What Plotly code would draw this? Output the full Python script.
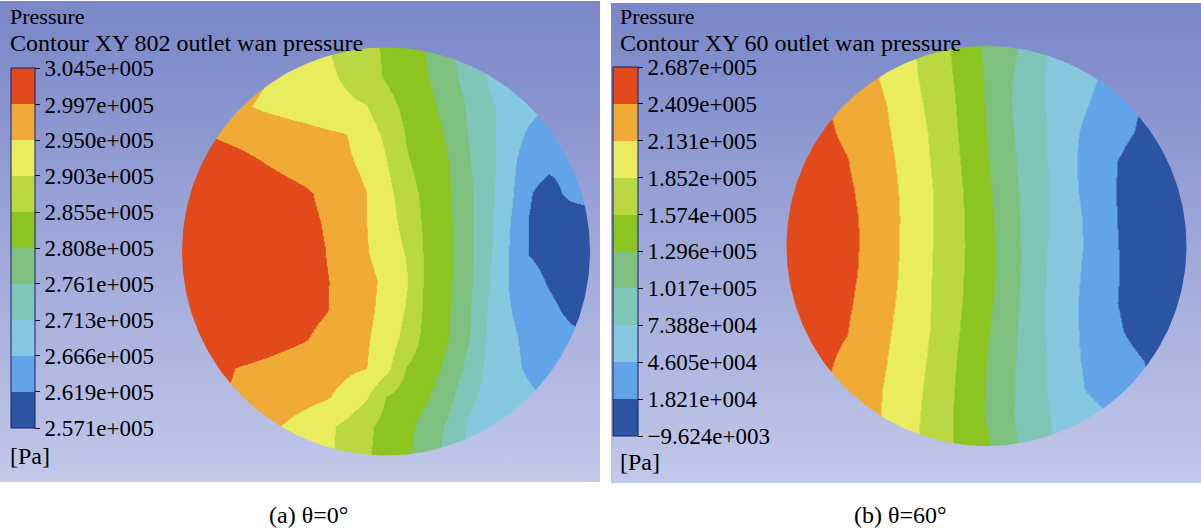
import numpy as np
import plotly.graph_objects as go

W, H = 1201, 532
FONT = "Liberation Serif, Times New Roman, serif"

# legend band colours, bottom (lowest) to top (highest)
BAND_COLORS = [
    "rgb(43,85,163)",    # dark blue
    "rgb(98,164,232)",   # blue
    "rgb(134,200,224)",  # light blue
    "rgb(128,198,184)",  # teal
    "rgb(126,192,126)",  # green-teal
    "rgb(140,196,32)",   # green
    "rgb(186,216,66)",   # yellow-green
    "rgb(232,236,94)",   # yellow
    "rgb(240,170,54)",   # orange
    "rgb(226,74,28)",    # red
]

# colour-bar tick labels, top to bottom
LABELS_A = ["3.045e+005", "2.997e+005", "2.950e+005", "2.903e+005", "2.855e+005",
            "2.808e+005", "2.761e+005", "2.713e+005", "2.666e+005", "2.619e+005",
            "2.571e+005"]
LABELS_B = ["2.687e+005", "2.409e+005", "2.131e+005", "1.852e+005", "1.574e+005",
            "1.296e+005", "1.017e+005", "7.388e+004", "4.605e+004", "1.821e+004",
            "\u22129.624e+003"]

# pressure, on a 21 x 15 grid over the circle
# (rows top -> bottom, columns left -> right), expressed in legend-band units
# (0 = bottom of the colour bar, 10 = top of the colour bar)
FIELD_A = [
    [9.33, 9.13, 8.85, 8.49, 8.11, 7.77, 7.43, 7.08, 6.70, 6.28, 5.87, 5.42, 4.93, 4.21, 3.38, 2.87, 2.63, 2.37, 2.13, 1.75, 1.25],
    [9.13, 8.91, 8.63, 8.36, 8.08, 7.80, 7.51, 7.21, 6.88, 6.38, 5.91, 5.49, 5.04, 4.40, 3.63, 2.94, 2.68, 2.40, 2.14, 1.75, 1.25],
    [9.33, 9.13, 8.74, 8.10, 7.86, 7.70, 7.54, 7.37, 7.21, 7.04, 6.35, 5.73, 5.27, 4.69, 3.89, 3.15, 2.70, 2.30, 1.90, 1.38, 0.90],
    [9.23, 9.03, 8.88, 8.74, 8.60, 8.46, 8.33, 8.18, 8.05, 7.53, 6.80, 5.91, 5.42, 4.91, 3.98, 3.26, 2.48, 1.84, 1.47, 1.09, 0.80],
    [9.84, 9.64, 9.43, 9.23, 9.02, 8.81, 8.60, 8.38, 8.17, 7.81, 7.07, 6.10, 5.56, 5.09, 4.11, 3.33, 2.35, 1.35, 1.15, 1.20, 1.30],
    [9.90, 9.90, 9.90, 9.73, 9.52, 9.32, 9.12, 8.82, 8.43, 8.02, 7.32, 6.42, 5.68, 5.18, 4.22, 3.36, 2.27, 1.06, 0.70, 1.20, 1.50],
    [9.90, 9.90, 9.90, 9.80, 9.59, 9.39, 9.19, 8.95, 8.50, 8.02, 7.42, 6.65, 5.74, 5.23, 4.29, 3.32, 2.07, 0.98, 0.60, 0.45, 0.40],
    [9.90, 9.90, 9.90, 9.83, 9.62, 9.42, 9.22, 9.01, 8.56, 8.07, 7.53, 6.92, 5.77, 5.26, 4.31, 3.21, 1.98, 0.95, 0.60, 0.45, 0.45],
    [9.90, 9.90, 9.90, 9.89, 9.68, 9.48, 9.28, 9.07, 8.73, 8.29, 7.78, 7.04, 5.76, 5.24, 4.25, 3.11, 1.97, 1.42, 0.90, 0.55, 0.50],
    [9.90, 9.90, 9.90, 9.88, 9.67, 9.47, 9.27, 9.06, 8.70, 8.24, 7.68, 6.91, 5.70, 5.16, 4.17, 2.95, 2.05, 1.62, 1.23, 0.80, 0.60],
    [9.90, 9.90, 9.86, 9.66, 9.45, 9.25, 9.05, 8.75, 8.44, 8.11, 7.55, 6.64, 5.61, 5.06, 4.10, 2.89, 2.18, 1.79, 1.53, 1.26, 1.00],
    [9.52, 9.32, 9.11, 8.93, 8.78, 8.63, 8.49, 8.33, 8.18, 8.03, 7.30, 5.95, 5.41, 4.81, 3.73, 2.76, 2.24, 1.86, 1.61, 1.36, 1.12],
    [9.43, 9.23, 9.02, 8.84, 8.65, 8.47, 8.29, 8.10, 7.74, 7.12, 5.98, 5.54, 5.09, 4.38, 3.21, 2.75, 2.46, 2.16, 1.89, 1.63, 1.38],
    [9.28, 9.08, 8.82, 8.54, 8.24, 7.95, 7.60, 7.23, 6.80, 6.20, 5.70, 5.23, 4.62, 3.88, 2.91, 2.66, 2.41, 2.14, 1.89, 1.63, 1.38],
    [9.18, 8.97, 8.67, 8.39, 8.09, 7.79, 7.49, 7.18, 6.76, 6.12, 5.63, 5.16, 4.53, 3.71, 2.87, 2.63, 2.39, 2.13, 1.89, 1.63, 1.38],
]
FIELD_B = [
    [9.37, 9.17, 8.94, 8.56, 8.19, 7.75, 7.24, 6.69, 6.10, 5.44, 4.83, 4.34, 3.76, 3.06, 2.65, 2.26, 1.85, 1.38, 0.95, 0.61, 0.28],
    [9.33, 9.14, 8.89, 8.56, 8.22, 7.83, 7.30, 6.76, 6.19, 5.56, 4.89, 4.22, 3.56, 2.94, 2.59, 2.24, 1.85, 1.38, 0.95, 0.61, 0.28],
    [9.44, 9.24, 9.04, 8.71, 8.35, 7.99, 7.44, 6.89, 6.29, 5.64, 4.93, 4.15, 3.53, 2.96, 2.50, 2.05, 1.65, 1.26, 0.89, 0.56, 0.22],
    [9.52, 9.32, 9.12, 8.85, 8.47, 8.10, 7.59, 7.03, 6.38, 5.70, 4.99, 4.23, 3.59, 3.01, 2.32, 1.81, 1.47, 1.13, 0.79, 0.46, 0.15],
    [9.64, 9.44, 9.24, 9.04, 8.64, 8.21, 7.70, 7.11, 6.46, 5.78, 5.08, 4.33, 3.65, 3.03, 2.30, 1.71, 1.22, 0.82, 0.49, 0.15, 0.10],
    [9.72, 9.52, 9.32, 9.12, 8.80, 8.31, 7.78, 7.20, 6.55, 5.87, 5.18, 4.43, 3.71, 3.06, 2.36, 1.73, 1.19, 0.78, 0.45, 0.12, 0.10],
    [9.76, 9.56, 9.36, 9.16, 8.89, 8.36, 7.81, 7.21, 6.57, 5.92, 5.26, 4.51, 3.74, 3.06, 2.46, 1.86, 1.23, 0.79, 0.46, 0.12, 0.10],
    [9.77, 9.57, 9.37, 9.16, 8.90, 8.36, 7.79, 7.19, 6.57, 5.94, 5.32, 4.58, 3.76, 3.02, 2.46, 1.90, 1.28, 0.81, 0.48, 0.15, 0.10],
    [9.75, 9.55, 9.35, 9.15, 8.87, 8.32, 7.76, 7.16, 6.53, 5.91, 5.31, 4.58, 3.75, 2.98, 2.39, 1.82, 1.28, 0.84, 0.50, 0.17, 0.10],
    [9.71, 9.51, 9.31, 9.11, 8.76, 8.23, 7.69, 7.14, 6.51, 5.86, 5.23, 4.49, 3.70, 2.95, 2.33, 1.75, 1.23, 0.81, 0.48, 0.15, 0.10],
    [9.63, 9.43, 9.23, 9.03, 8.59, 8.12, 7.61, 7.10, 6.44, 5.76, 5.10, 4.40, 3.68, 2.95, 2.32, 1.79, 1.35, 0.94, 0.60, 0.27, 0.10],
    [9.51, 9.31, 9.11, 8.82, 8.42, 8.01, 7.50, 6.99, 6.33, 5.66, 4.99, 4.30, 3.64, 3.01, 2.34, 1.85, 1.56, 1.26, 0.96, 0.63, 0.29],
    [9.40, 9.20, 9.01, 8.65, 8.30, 7.92, 7.42, 6.90, 6.25, 5.60, 4.94, 4.26, 3.62, 3.01, 2.46, 1.95, 1.67, 1.38, 1.10, 0.78, 0.45],
    [9.40, 9.20, 9.01, 8.64, 8.28, 7.88, 7.36, 6.81, 6.19, 5.56, 4.93, 4.24, 3.63, 3.08, 2.72, 2.39, 2.06, 1.65, 1.22, 0.84, 0.50],
    [9.44, 9.24, 9.04, 8.68, 8.29, 7.87, 7.35, 6.79, 6.16, 5.64, 5.16, 4.39, 3.67, 3.10, 2.74, 2.42, 2.11, 1.72, 1.29, 0.89, 0.56],
]

TITLES = ["Contour XY 802 outlet wan pressure", "Contour XY 60 outlet wan pressure"]
CAPTIONS = ["(a) \u03b8=0\u00b0", "(b) \u03b8=60\u00b0"]

# ---------------- layout constants (pixels) ----------------
BG_TOP = "rgb(121,134,200)"
BG_BOTTOM = "rgb(194,200,233)"
HEAD_SIZE = 22
TITLE_SIZE = 24
TICK_SIZE = 23
PANELS = [
    dict(box=(0, 1, 600, 482), center=(386, 251.5), radius=204,
         cbar=(11, 68, 24, 360), text_x=9, pa_y=456, caption=(308, 515)),
    dict(box=(611, 3, 1201, 483), center=(986.5, 246), radius=200,
         cbar=(613, 67, 25, 369), text_x=619, pa_y=462, caption=(900, 515)),
]

GRID_U = np.linspace(-1.0, 1.0, 21)
GRID_V = np.linspace(-1.0, 1.0, 15)   # bottom -> top

step_scale = []
for k, c in enumerate(BAND_COLORS):
    step_scale.append([k / 10, c])
    step_scale.append([(k + 1) / 10, c])


def level_values(labels):
    return [float(t.replace("\u2212", "-")) for t in labels]


fig = go.Figure()
annotations = []
layout_axes = {}

for i, (field, labels, title, caption, spec) in enumerate(
        zip([FIELD_A, FIELD_B], [LABELS_A, LABELS_B], TITLES, CAPTIONS, PANELS)):
    n = i + 1
    xname, yname = ("x", "y") if n == 1 else (f"x{n}", f"y{n}")
    xkey, ykey = ("xaxis", "yaxis") if n == 1 else (f"xaxis{n}", f"yaxis{n}")

    vals = level_values(labels)
    pmin, pmax = min(vals), max(vals)
    z = pmin + np.array(field)[::-1] * (pmax - pmin) / 10.0

    x0, y0, x1, y1 = spec["box"]
    cx, cy = spec["center"]
    r = spec["radius"]
    ux0, ux1 = (x0 - cx) / r, (x1 - cx) / r
    vtop, vbot = (cy - y0) / r, (cy - y1) / r

    cbx, cby, cbt, cbl = spec["cbar"]
    fig.add_trace(go.Heatmap(
        x=GRID_U, y=GRID_V, z=z, zmin=pmin, zmax=pmax, zsmooth="best",
        colorscale=step_scale, hoverinfo="skip", xaxis=xname, yaxis=yname,
        colorbar=dict(
            x=cbx / W, xanchor="left", xpad=0, xref="paper",
            y=1 - cby / H, yanchor="top", ypad=0, yref="paper",
            len=cbl, lenmode="pixels", thickness=cbt, thicknessmode="pixels",
            outlinewidth=1, outlinecolor="rgb(22,32,100)",
            tickmode="array", tickvals=vals, ticktext=labels,
            ticks="outside", ticklen=5, tickwidth=1, tickcolor="rgb(20,20,20)",
            tickfont=dict(family=FONT, size=TICK_SIZE, color="black"),
        ),
    ))

    # gradient background around the circular section
    pad = 0.05
    th = np.linspace(np.pi, 3 * np.pi, 361)
    mx = [ux0 - pad, ux0 - pad, ux1 + pad, ux1 + pad, ux0 - pad, ux0 - pad, -1.0] + list(np.cos(th)) + [ux0 - pad]
    my = [0.0, vtop + pad, vtop + pad, vbot - pad, vbot - pad, 0.0, 0.0] + list(np.sin(th)) + [0.0]
    fig.add_trace(go.Scatter(
        x=mx, y=my, mode="lines", fill="toself",
        fillgradient=dict(type="vertical", colorscale=[[0, BG_BOTTOM], [1, BG_TOP]],
                          start=vbot, stop=vtop),
        line=dict(width=0, color="rgba(0,0,0,0)"),
        hoverinfo="skip", showlegend=False, xaxis=xname, yaxis=yname,
    ))

    layout_axes[xkey] = dict(domain=[x0 / W, x1 / W], range=[ux0, ux1], visible=False,
                             fixedrange=True)
    layout_axes[ykey] = dict(domain=[1 - y1 / H, 1 - y0 / H], range=[vbot, vtop],
                             visible=False, fixedrange=True)

    tx = spec["text_x"]
    for txt, ty, fs in [("Pressure", 16.5, HEAD_SIZE), (title, 42.5, TITLE_SIZE),
                        ("[Pa]", spec["pa_y"], TITLE_SIZE)]:
        annotations.append(dict(text=txt, x=tx / W, y=1 - ty / H, xref="paper", yref="paper",
                                xanchor="left", yanchor="middle", showarrow=False,
                                borderpad=0,
                                font=dict(family=FONT, size=fs, color="black")))
    capx, capy = spec["caption"]
    annotations.append(dict(text=caption, x=capx / W, y=1 - capy / H, xref="paper",
                            yref="paper", xanchor="center", yanchor="middle",
                            showarrow=False, borderpad=0,
                            font=dict(family=FONT, size=TITLE_SIZE, color="black")))

fig.update_layout(
    width=W, height=H, margin=dict(l=0, r=0, t=0, b=0),
    paper_bgcolor="white", plot_bgcolor="white", showlegend=False,
    font=dict(family=FONT),
    annotations=annotations, **layout_axes,
)

fig.write_html("out.html")
